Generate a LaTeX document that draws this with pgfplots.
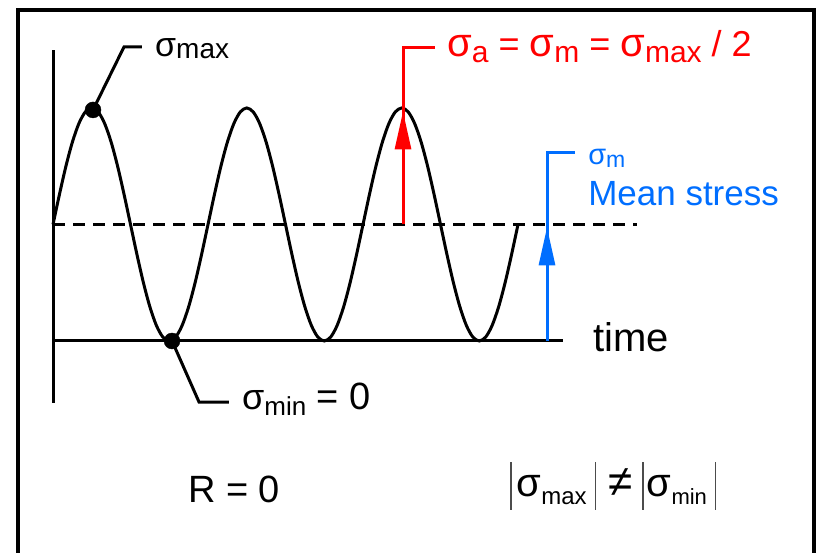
\documentclass[border=0pt]{standalone}
\usepackage{fontspec}
\setmainfont{Liberation Sans}
\usepackage{pgfplots}
\pgfplotsset{compat=1.18}
\usetikzlibrary{arrows.meta}
\definecolor{myred}{RGB}{255,0,0}
\definecolor{myblue}{RGB}{0,110,255}
\newcommand{\fs}[1]{\fontsize{#1}{#1}\selectfont}
\newcommand{\absbar}{\textcolor{black!70}{\rule[-13bp]{1.5bp}{48bp}}}
\begin{document}
\begin{tikzpicture}
\begin{axis}[
  anchor=south west, at={(0,0)},
  x=155bp, y=116.5bp,
  xmin=-0.342, xmax=4.929, ymin=-1.820, ymax=2.927,
  axis lines=none, ticks=none, clip=true,
]
% frame
\addplot[black, line width=4bp] coordinates {(-0.2258,-2.2) (-0.2258,2.841) (4.910,2.841) (4.910,-2.2)};
% axes
\addplot[black, line width=3bp] coordinates {(0,-0.532) (0,2.498)};
\addplot[black, line width=3bp] coordinates {(0,0) (3.29,0)};
% mean line
\addplot[black, line width=3bp, dash pattern=on 12bp off 8bp] coordinates {(0,1) (3.768,1)};
% stress history
\addplot[black, line width=3bp, smooth] table {
0.0000 1.0000
0.0417 1.2588
0.0833 1.5000
0.1250 1.7071
0.1667 1.8660
0.2083 1.9659
0.2500 2.0000
0.2917 1.9659
0.3333 1.8660
0.3750 1.7071
0.4167 1.5000
0.4583 1.2588
0.5000 1.0000
0.5417 0.7412
0.5833 0.5000
0.6250 0.2929
0.6667 0.1340
0.7083 0.0341
0.7500 0.0000
0.7917 0.0341
0.8333 0.1340
0.8750 0.2929
0.9167 0.5000
0.9583 0.7412
1.0000 1.0000
1.0417 1.2588
1.0833 1.5000
1.1250 1.7071
1.1667 1.8660
1.2083 1.9659
1.2500 2.0000
1.2917 1.9659
1.3333 1.8660
1.3750 1.7071
1.4167 1.5000
1.4583 1.2588
1.5000 1.0000
1.5417 0.7412
1.5833 0.5000
1.6250 0.2929
1.6667 0.1340
1.7083 0.0341
1.7500 0.0000
1.7917 0.0341
1.8333 0.1340
1.8750 0.2929
1.9167 0.5000
1.9583 0.7412
2.0000 1.0000
2.0417 1.2588
2.0833 1.5000
2.1250 1.7071
2.1667 1.8660
2.2083 1.9659
2.2500 2.0000
2.2917 1.9659
2.3333 1.8660
2.3750 1.7071
2.4167 1.5000
2.4583 1.2588
2.5000 1.0000
2.5417 0.7412
2.5833 0.5000
2.6250 0.2929
2.6667 0.1340
2.7083 0.0341
2.7500 0.0000
2.7917 0.0341
2.8333 0.1340
2.8750 0.2929
2.9167 0.5000
2.9583 0.7412
3.0000 1.0000
};
% leader lines
\addplot[black, line width=3bp] coordinates {(0.258,1.983) (0.458,2.524) (0.574,2.524)};
\addplot[black, line width=3bp] coordinates {(0.768,0) (0.942,-0.524) (1.135,-0.524)};
% dots
\addplot[only marks, mark=*, mark size=8bp, mark options={fill=black, draw=black}] coordinates {(0.258,1.983) (0.768,0)};
% red amplitude
\addplot[myred, line width=3bp] coordinates {(2.258,1) (2.258,2.515) (2.465,2.515)};
\addplot[myred, line width=3bp, -{Triangle[length=38bp,width=16bp]}] coordinates {(2.258,1) (2.258,1.97)};
% blue mean
\addplot[myblue, line width=3bp] coordinates {(3.187,0) (3.187,1.614) (3.368,1.614)};
\addplot[myblue, line width=3bp, -{Triangle[length=38bp,width=16bp]}] coordinates {(3.187,0) (3.187,0.975)};
% texts
\node[anchor=base west, inner sep=0] at (axis cs:0.658,2.446) {\fs{34bp}σ\raisebox{-2.5bp}{\fs{28bp}max}};
\node[anchor=base west, inner sep=0, text=myred] at (axis cs:2.542,2.438) {\fs{40bp}σ\raisebox{-6bp}{\fs{30bp}a}\fs{36bp} = \fs{40bp}σ\raisebox{-6bp}{\fs{30bp}m}\fs{36bp} = \fs{40bp}σ\raisebox{-6bp}{\fs{30bp}max}\fs{36bp} / 2};
\node[anchor=base west, inner sep=0, text=myblue] at (axis cs:3.452,1.511) {\fs{29bp}σ\raisebox{-3bp}{\fs{23bp}m}};
\node[anchor=base west, inner sep=0, text=myblue] at (axis cs:3.452,1.167) {\fs{35bp}Mean stress};
\node[anchor=base west, inner sep=0] at (axis cs:3.484,-0.094) {\fs{40bp}time};
\node[anchor=base west, inner sep=0] at (axis cs:1.219,-0.584) {\fs{36bp}σ\raisebox{-6bp}{\fs{26bp}min}\fs{38bp} = 0};
\node[anchor=base west, inner sep=0] at (axis cs:0.871,-1.39) {\fs{38bp}R = 0};
\node[anchor=base west, inner sep=0] at (axis cs:2.948,-1.339) {\absbar\hspace{5bp}\fs{40bp}σ\raisebox{-8bp}{\fs{24bp}max}\hspace{8bp}\absbar\hspace{12bp}\fs{44bp}≠\hspace{10bp}\absbar\hspace{3bp}\fs{40bp}σ\raisebox{-8bp}{\fs{22bp}min}\hspace{8bp}\absbar};
\end{axis}
\pgfresetboundingbox
\useasboundingbox (0,0) rectangle (817bp,553bp);
\end{tikzpicture}
\end{document}
